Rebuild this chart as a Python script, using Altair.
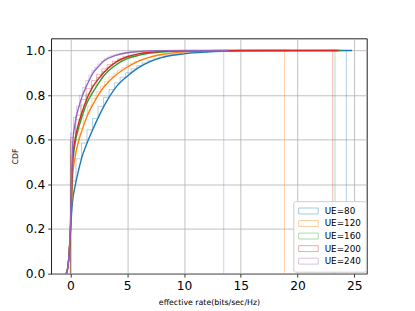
import altair as alt
import numpy as np
import pandas as pd

names = ["UE=80", "UE=120", "UE=160", "UE=200", "UE=240"]
colors = ["#1f77b4", "#ff7f0e", "#2ca02c", "#d62728", "#9467bd"]

# smooth CDF curves (x grid shared, each series ends at its own max)
smooth_x = [-0.4, -0.3, -0.2, -0.1, 0, 0.1, 0.2, 0.4, 0.7, 1, 1.5, 2, 2.5, 3,
            4, 5, 6, 7, 8, 10, 12, 15, 20]
smooth_end = [24.8, 19.3, 23.8, 23.6, 13.9]
smooth_y = [
    [0, 0.01, 0.04, 0.1, 0.18, 0.27, 0.33, 0.39, 0.46, 0.52, 0.59, 0.65, 0.705, 0.755,
     0.835, 0.885, 0.923, 0.95, 0.968, 0.985, 0.993, 0.998, 0.9995, 1.0],
    [0, 0.01, 0.04, 0.1, 0.19, 0.32, 0.44, 0.52, 0.59, 0.64, 0.71, 0.76, 0.805, 0.84,
     0.89, 0.925, 0.952, 0.97, 0.982, 0.994, 0.998, 0.9995, 1.0],
    [0, 0.01, 0.04, 0.1, 0.2, 0.35, 0.49, 0.58, 0.65, 0.7, 0.77, 0.815, 0.855, 0.89,
     0.935, 0.963, 0.978, 0.988, 0.993, 0.998, 0.999, 0.9997, 0.9999, 1.0],
    [0, 0.01, 0.04, 0.1, 0.2, 0.37, 0.52, 0.6, 0.67, 0.72, 0.79, 0.84, 0.875, 0.905,
     0.948, 0.972, 0.985, 0.992, 0.996, 0.999, 0.9995, 0.9998, 0.9999, 1.0],
    [0, 0.01, 0.04, 0.11, 0.22, 0.42, 0.58, 0.67, 0.74, 0.79, 0.85, 0.9, 0.93, 0.955,
     0.978, 0.99, 0.995, 0.998, 0.999, 0.9997, 0.9999, 1.0],
]

# cumulative step histograms (50 bins from 0 to max), values per bin
n_bins = 50
step_end = [24.3, 18.85, 23.3, 23.1, 13.5]
step_vals = [
    [0.415, 0.515, 0.585, 0.645, 0.695, 0.75, 0.79, 0.825, 0.855, 0.88, 0.9, 0.918,
     0.932, 0.944, 0.954, 0.963, 0.97, 0.976, 0.981, 0.985, 0.988, 0.99, 0.992, 0.993,
     0.995, 0.996, 0.997, 0.998, 0.998, 0.999],
    [0.53, 0.6, 0.65, 0.71, 0.75, 0.785, 0.815, 0.84, 0.862, 0.882, 0.898, 0.912, 0.923,
     0.934, 0.943, 0.951, 0.958, 0.964, 0.969, 0.973, 0.977, 0.98, 0.983, 0.986, 0.988,
     0.99, 0.992, 0.993, 0.994, 0.995, 0.996, 0.997, 0.998, 0.998, 0.999],
    [0.59, 0.69, 0.755, 0.805, 0.845, 0.88, 0.905, 0.925, 0.942, 0.955, 0.965, 0.972,
     0.978, 0.983, 0.987, 0.99, 0.992, 0.994, 0.996, 0.997, 0.998, 0.998, 0.999],
    [0.61, 0.71, 0.78, 0.83, 0.865, 0.893, 0.918, 0.937, 0.952, 0.963, 0.972, 0.979,
     0.984, 0.988, 0.991, 0.993, 0.995, 0.996, 0.997, 0.998, 0.999],
    [0.63, 0.7, 0.75, 0.8, 0.835, 0.865, 0.89, 0.91, 0.925, 0.94, 0.953, 0.962, 0.97,
     0.976, 0.98, 0.984, 0.987, 0.99, 0.992, 0.994, 0.995, 0.996, 0.997, 0.998, 0.998,
     0.999],
]

x_ticks = [0, 5, 10, 15, 20, 25]
y_ticks = [0.0, 0.2, 0.4, 0.6, 0.8, 1.0]

smooth_rows = []
step_rows = []
for k, name in enumerate(names):
    xs = [v for v in smooth_x if v < smooth_end[k]] + [smooth_end[k]]
    for i, (xv, yv) in enumerate(zip(xs, smooth_y[k])):
        smooth_rows.append({"series": name, "x": xv, "y": yv, "o": i, "k": k})
    vals = step_vals[k] + [1.0] * (n_bins - len(step_vals[k]))
    edges = np.linspace(0, step_end[k], n_bins + 1)
    pts = [(0.0, 0.0)]
    for i in range(n_bins):
        pts.append((edges[i], vals[i]))
        pts.append((edges[i + 1], vals[i]))
    pts.append((step_end[k], 0.0))
    for i, (xv, yv) in enumerate(pts):
        step_rows.append({"series": name, "x": float(xv), "y": yv, "o": i, "k": k})

smooth_df = pd.DataFrame(smooth_rows)
step_df = pd.DataFrame(step_rows)

xscale = alt.Scale(domain=[-1.7, 26.1], nice=False, zero=False)
yscale = alt.Scale(domain=[0, 1.054], nice=False, zero=False)

xaxis = alt.Axis(values=x_ticks, format="d", title="effective rate(bits/sec/Hz)",
                 titlePadding=6)
yaxis = alt.Axis(values=y_ticks, format=".1f", title="CDF", titlePadding=6)

steps = alt.Chart(step_df).mark_line(strokeWidth=1, opacity=0.35, clip=True).encode(
    x=alt.X("x:Q", scale=xscale, axis=xaxis),
    y=alt.Y("y:Q", scale=yscale, axis=yaxis),
    color=alt.Color("series:N", scale=alt.Scale(domain=names, range=colors),
                    legend=alt.Legend(
                        title=None, orient="none", legendX=247, legendY=166,
                        symbolType="M-1,-0.67H3.44V0.67H-1Z", symbolSize=81,
                        symbolStrokeWidth=1, symbolOpacity=0.4,
                        symbolFillColor="transparent",
                        labelFont="DejaVu Sans", labelFontSize=9, labelColor="black",
                        labelOffset=17, rowPadding=0.8, padding=5,
                        strokeColor="#cccccc", fillColor="white", cornerRadius=2)),
    detail="series:N",
    order="o:Q",
)

smooth = alt.Chart(smooth_df).mark_line(strokeWidth=1.4, interpolate="monotone",
                                         clip=True).encode(
    x=alt.X("x:Q", scale=xscale),
    y=alt.Y("y:Q", scale=yscale),
    color=alt.Color("series:N", scale=alt.Scale(domain=names, range=colors), legend=None),
    detail="series:N",
    order="o:Q",
)

chart = alt.layer(steps, smooth).resolve_scale(color="independent").properties(
    width=322, height=240,
    background="white",
    autosize=alt.AutoSizeParams(type="none"),
    padding={"left": 44, "top": 28, "right": 41, "bottom": 35},
).configure_view(stroke="black", strokeWidth=0.9).configure_axis(
    domain=False,
    tickColor="black", tickSize=3.5, tickWidth=0.8,
    grid=True, gridColor="#b0b0b0", gridWidth=0.8,
    labelFont="DejaVu Sans", labelFontSize=12.5, labelColor="black", labelPadding=3,
    titleFont="DejaVu Sans", titleFontSize=8, titleFontWeight="normal", titleColor="black",
)

chart.save("out.html", embed_options={"renderer": "svg", "actions": False})
